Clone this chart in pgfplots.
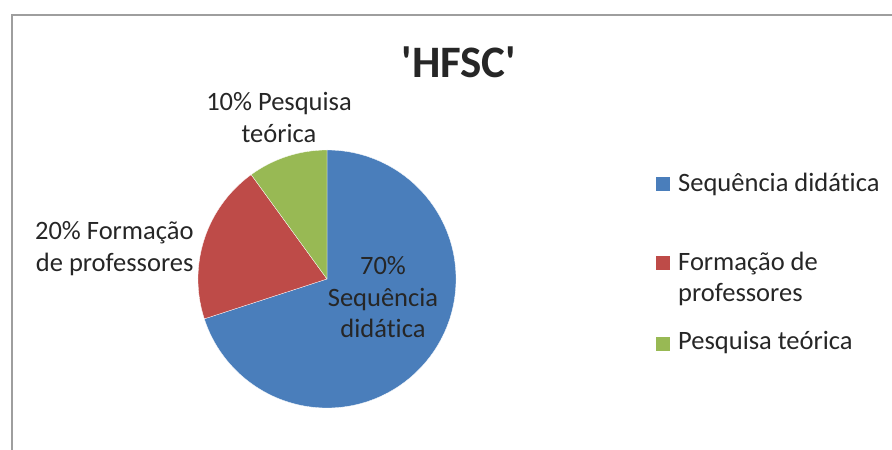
\documentclass[border=0pt]{standalone}
\usepackage{pgfplots}
\usepackage{pgfplotstable}
\pgfplotsset{compat=1.18}
\usepackage{fontspec}
\setmainfont{Carlito}[Ligatures={NoCommon,NoDiscretionary,NoRequired,NoContextual}]

\definecolor{sdblue}{HTML}{4A7EBB}
\definecolor{fpred}{HTML}{BE4B48}
\definecolor{ptgreen}{HTML}{98B954}
\definecolor{txt}{HTML}{262626}

% share of each theme (percent), colour of its slice
\pgfplotstableread{
value colour
70 sdblue
20 fpred
10 ptgreen
}\piedata

\newcommand{\lbl}{\fontsize{26.5}{31.5}\selectfont}

\begin{document}
\begin{tikzpicture}
\begin{axis}[
    hide axis,
    scale only axis,
    width=892pt, height=450pt,
    xmin=0, xmax=892, ymin=0, ymax=450,
    clip=false,
  ]
  % pie slices, clockwise from 12 o'clock
  \pgfplotsextra{
    \gdef\angA{90}
    \pgfplotstableforeachcolumnelement{value}\of\piedata\as\val{%
      \pgfplotstablegetelem{\pgfplotstablerow}{colour}\of\piedata
      \global\let\slicecol\pgfplotsretval
      \pgfmathsetmacro\angB{\angA-3.6*\val}
      \fill[\slicecol, draw=white, line width=0.3pt] (axis cs:327,171) -- ++(\angA:129pt)
        arc[start angle=\angA, end angle=\angB, radius=129pt] -- cycle;
      \xdef\angA{\angB}
    }
  }

  % frame
  \draw[black!38, line width=1.4pt] (axis cs:12,-5) -- (axis cs:12,435) -- (axis cs:900,435);

  % title
  \node[anchor=base, txt, font=\fontsize{45}{54}\selectfont\bfseries] at (axis cs:459,372) {\textquotesingle HFSC\textquotesingle};

  % slice labels
  \node[anchor=base, txt, font=\lbl] at (axis cs:383,175) {70\%};
  \node[anchor=base, txt, font=\lbl] at (axis cs:383,143) {Sequência};
  \node[anchor=base, txt, font=\lbl] at (axis cs:383,112) {didática};

  \node[anchor=base east, txt, font=\lbl] at (axis cs:197,210) {20\% Formação};
  \node[anchor=base east, txt, font=\lbl] at (axis cs:197,178) {de professores};

  \node[anchor=base, txt, font=\lbl] at (axis cs:279,339) {10\% Pesquisa};
  \node[anchor=base, txt, font=\lbl] at (axis cs:279,307) {teórica};

  % legend
  \fill[sdblue] (axis cs:656,259) rectangle (axis cs:670,273);
  \node[anchor=base west, txt, font=\lbl, inner sep=0pt] at (axis cs:678,258) {Sequência didática};
  \fill[fpred] (axis cs:656,180) rectangle (axis cs:670,194);
  \node[anchor=base west, txt, font=\lbl, inner sep=0pt] at (axis cs:678,179) {Formação de};
  \node[anchor=base west, txt, font=\lbl, inner sep=0pt] at (axis cs:678,148) {professores};
  \fill[ptgreen] (axis cs:656,99) rectangle (axis cs:670,113);
  \node[anchor=base west, txt, font=\lbl, inner sep=0pt] at (axis cs:678,100) {Pesquisa teórica};
\end{axis}
\pgfresetboundingbox
\path[use as bounding box] (0,0) rectangle (892pt,450pt);
\end{tikzpicture}
\end{document}
